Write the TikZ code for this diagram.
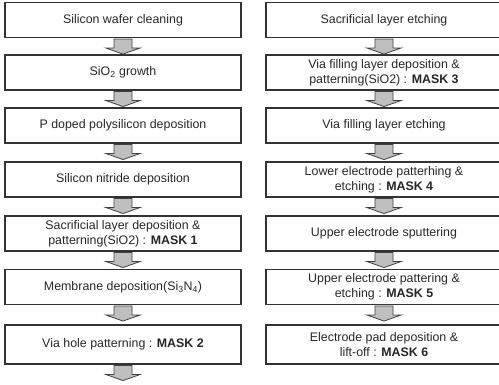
\documentclass[tikz,border=0pt]{standalone}
\usepackage{fontspec}
\setmainfont{Liberation Sans}
\tikzset{
    stepbox/.style={draw=black!80,line width=1.1pt,minimum width=236pt,minimum height=35pt,
        inner sep=0pt,align=center,text=black!85,font=\fontsize{12.4}{15}\selectfont},
    blkarrow/.style={fill=gray!50,draw=black!75,line width=.8pt,line join=miter}
}
\newcommand{\blockarrow}[1]{%
    \draw[blkarrow] ([shift={(-9,1)}]#1.south) --++(0,9) --++(-8,0) --++(17,6) --++(17,-6) --++(-8,0) --++(0,-9) --cycle;}
\begin{document}
\begin{tikzpicture}[x=1pt,y=-1pt]
        \useasboundingbox (0,0) rectangle (499,384);
        \clip (0,0) rectangle (499,384);
        % left column
        \node[stepbox] (l1) at (123,20) {Silicon wafer cleaning};
        \node[stepbox] (l2) at (123,72.5) {SiO\textsubscript{2} growth};
        \node[stepbox] (l3) at (123,125.5) {P doped polysilicon deposition};
        \node[stepbox] (l4) at (123,179.5) {Silicon nitride deposition};
        \node[stepbox] (l5) at (123,233.5) {Sacrificial layer deposition \&\\patterning(SiO2) : \textbf{MASK 1}};
        \node[stepbox] (l6) at (123,287) {Membrane deposition(Si\textsubscript{3}N\textsubscript{4})};
        \node[stepbox,minimum height=39pt] (l7) at (123,344.5) {Via hole patterning : \textbf{MASK 2}};
        % right column
        \node[stepbox] (r1) at (384,20) {Sacrificial layer etching};
        \node[stepbox] (r2) at (384,72.5) {Via filling layer deposition \&\\patterning(SiO2) : \textbf{MASK 3}};
        \node[stepbox] (r3) at (384,125.5) {Via filling layer etching};
        \node[stepbox] (r4) at (384,179.5) {Lower electrode patterhing \&\\etching : \textbf{MASK 4}};
        \node[stepbox] (r5) at (384,233.5) {Upper electrode sputtering};
        \node[stepbox] (r6) at (384,287) {Upper electrode pattering \&\\etching : \textbf{MASK 5}};
        \node[stepbox,minimum height=39pt] (r7) at (384,344.5) {Electrode pad deposition \&\\lift-off : \textbf{MASK 6}};
        \foreach \a in {l1,l2,l3,l4,l5,l6,l7,r1,r2,r3,r4,r5,r6}
            \blockarrow{\a};
    \end{tikzpicture}
\end{document}
